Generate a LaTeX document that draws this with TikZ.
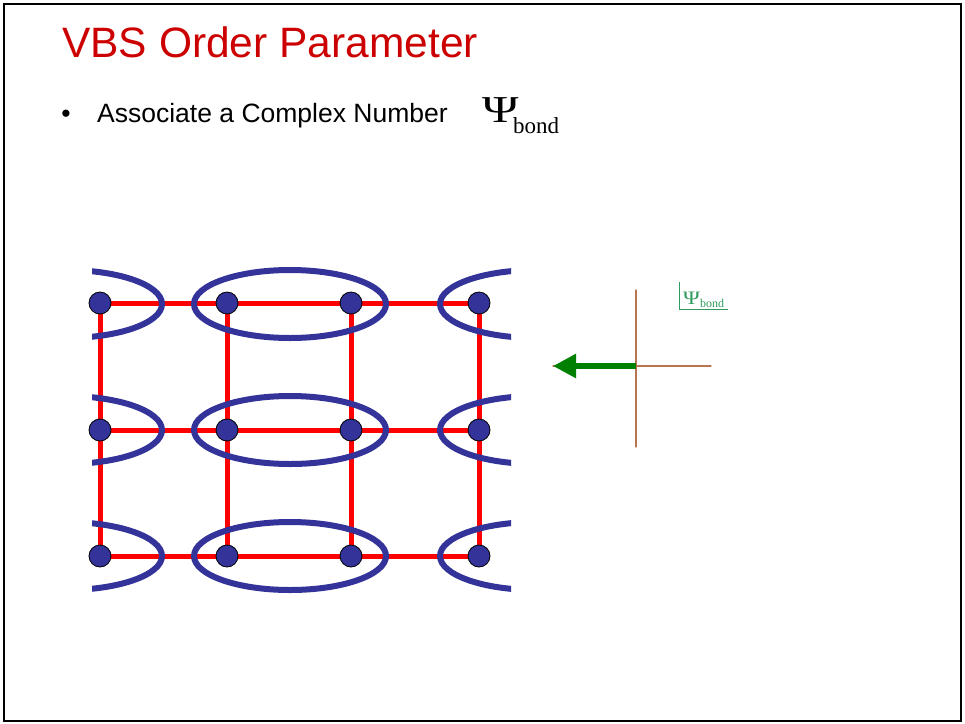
\documentclass[tikz,border=0pt]{standalone}
\usepackage{fontspec}
\setmainfont{Liberation Serif}
\setsansfont{Liberation Sans}
\usetikzlibrary{arrows.meta,backgrounds}
\definecolor{rojo}{HTML}{FF0000}
\definecolor{titulo}{HTML}{CC0000}
\definecolor{azul}{HTML}{333399}
\definecolor{verde}{HTML}{008000}
\definecolor{siena}{HTML}{B8734F}
\definecolor{menta}{HTML}{2E9A5E}

\begin{document}
\begin{tikzpicture}[x=1pt,y=-1pt,>=Latex,line cap=round,
    site/.style={circle,draw=black,line width=0.8pt,fill=azul,
                 minimum size=22pt,inner sep=0pt},
    bond/.style={rojo,line width=5pt},
    pair/.style={azul,line width=6pt},
    axis/.style={siena,line width=1.3pt}]
  \useasboundingbox (0,0) rectangle (965,723);
  \draw[line width=2pt] (4,4) rectangle (961,721);
  % title and bullet
  \node[anchor=base west,inner sep=0pt,text=titulo,
        font=\sffamily\fontsize{42.5}{48}\selectfont] (title) at (62,57) {VBS Order Parameter};
  \node[anchor=base,inner sep=0pt,font=\sffamily\fontsize{26.5}{30}\selectfont]
        (bullet) at (66,122) {\textbullet};
  \node[anchor=base west,inner sep=0pt,font=\sffamily\fontsize{26.5}{30}\selectfont]
        (assoc) at (97,122) {Associate a Complex Number};
  \node[anchor=base west,inner sep=0pt,font=\fontsize{38}{40}\selectfont]
        (psi) at (482,122) {\scalebox{1.3}[1]{Ψ}};
  \node[anchor=base west,inner sep=0pt,font=\fontsize{23}{26}\selectfont]
        (psisub) at (513,133) {bond};
  % lattice sites
  \foreach \c/\x in {1/100,2/227,3/351,4/479}{
    \foreach \r/\y in {1/303,2/430,3/556}{
      \node[site] (s\r\c) at (\x,\y) {};
    }
  }
  \begin{scope}[on background layer]
    \foreach \c in {1,2,3,4}{
      \draw[bond] (s1\c) -- (s2\c);
      \draw[bond] (s2\c) -- (s3\c);
    }
    \foreach \r in {1,2,3}{
      \foreach \c/\d in {1/2,2/3,3/4}{
        \draw[bond] (s\r\c) -- (s\r\d);
      }
    }
    % singlet pairs
    \begin{scope}
      \clip (92,250) rectangle (511,610);
      \foreach \y in {304,430,556}{
        \draw[pair] (66,\y)  ellipse [x radius=96pt,y radius=34pt];
        \draw[pair] (290,\y) ellipse [x radius=96pt,y radius=34pt];
        \draw[pair] (536,\y) ellipse [x radius=96pt,y radius=34pt];
      }
    \end{scope}
  \end{scope}
  % complex plane
  \coordinate (orig) at (636,366);
  \coordinate (up)   at (636,290);
  \coordinate (down) at (636,447);
  \coordinate (left) at (553,366);
  \coordinate (right) at (711,366);
  \draw[axis] (up) -- (down);
  \draw[axis] (left) -- (right);
  \draw[verde,line width=5.5pt,line cap=butt,-{Triangle[length=23pt,width=23pt]}]
        (orig) -- (left);
  \node[anchor=south west,inner xsep=4pt,inner ysep=1pt,text=menta] (lbl) at (679,309)
        {\fontsize{19}{21}\selectfont\scalebox{1.2}[1]{Ψ}\raisebox{-3pt}{\fontsize{12}{14}\selectfont bond}};
  \draw[menta,line width=0.8pt,line cap=butt] (lbl.south west) ++(0,-27) -- (lbl.south west) -- (lbl.south east);
\end{tikzpicture}
\end{document}
